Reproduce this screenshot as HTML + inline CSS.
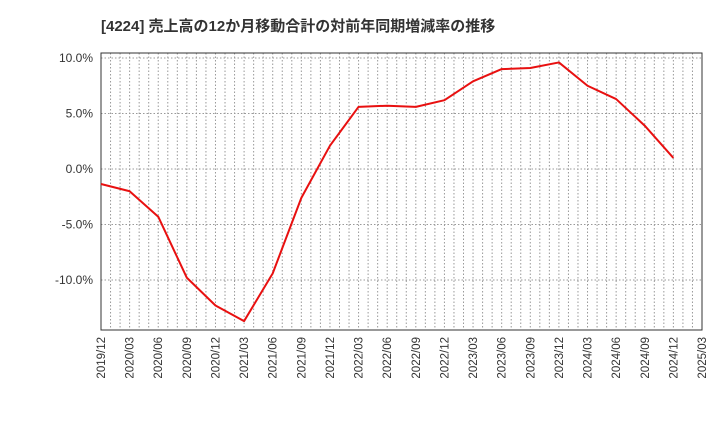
<!DOCTYPE html>
<html><head><meta charset="utf-8"><style>
body{margin:0;background:#fff;}
svg{display:block;font-family:"Liberation Sans","Noto Sans CJK JP",sans-serif;}
</style></head><body>
<svg id="c" width="720" height="440">
<text x="101" y="31" font-size="15" font-weight="bold" fill="#333">[4224]  売上高の12か月移動合計の対前年同期増減率の推移</text>
<g id="grid"></g><g id="axes"></g><g id="series"></g>
</svg>
<script>
const categories=["2019/12","2020/03","2020/06","2020/09","2020/12","2021/03","2021/06","2021/09","2021/12","2022/03","2022/06","2022/09","2022/12","2023/03","2023/06","2023/09","2023/12","2024/03","2024/06","2024/09","2024/12"];
const tickLabels=["2019/12","2020/03","2020/06","2020/09","2020/12","2021/03","2021/06","2021/09","2021/12","2022/03","2022/06","2022/09","2022/12","2023/03","2023/06","2023/09","2023/12","2024/03","2024/06","2024/09","2024/12","2025/03"];
const values=[-1.35,-2.0,-4.3,-9.8,-12.3,-13.7,-9.4,-2.6,2.1,5.6,5.7,5.6,6.2,7.9,9.0,9.1,9.6,7.5,6.3,3.9,1.0];
const yTicks=[10,5,0,-5,-10];
const yTickLabels=["10.0%","5.0%","0.0%","-5.0%","-10.0%"];
const L=101,R=702,T=53,B=330;
const x=i=>L+(R-L)*i/(tickLabels.length-1);
const y=v=>169-v*(55.5/5);
const ns="http://www.w3.org/2000/svg";
function mk(tag,attrs,parent){const e=document.createElementNS(ns,tag);for(const k in attrs)e.setAttribute(k,attrs[k]);document.getElementById(parent).appendChild(e);return e;}
const months=(tickLabels.length-1)*3;
for(let m=1;m<months;m++){const xx=L+(R-L)*m/months;
const g=mk("line",{x1:xx,x2:xx,y1:T,y2:B,stroke:"#999","stroke-dasharray":"1.5,2","stroke-width":1},"grid");

}
yTicks.forEach((t,i)=>{const yy=y(t);
const g=mk("line",{x1:L,x2:R,y1:yy,y2:yy,stroke:"#999","stroke-dasharray":"1.5,2","stroke-width":1},"grid");


const tx=mk("text",{x:L-8,y:yy+4,"text-anchor":"end","font-size":12,fill:"#333"},"axes");tx.textContent=yTickLabels[i];

});
const fr=mk("rect",{x:L,y:T,width:R-L,height:B-T,fill:"none",stroke:"#333","stroke-width":1},"axes");


tickLabels.forEach((t,i)=>{const xx=x(i)+4;
const tx=mk("text",{x:xx,y:337,"text-anchor":"end","font-size":11.5,fill:"#333",transform:`rotate(-90 ${xx} 337)`},"axes");tx.textContent=t;

});
const pts=values.map((v,i)=>x(i)+","+y(v)).join(" ");
const pl=mk("polyline",{points:pts,fill:"none",stroke:"#e81010","stroke-width":2,"stroke-linejoin":"round"},"series");


</script>
</body></html>
